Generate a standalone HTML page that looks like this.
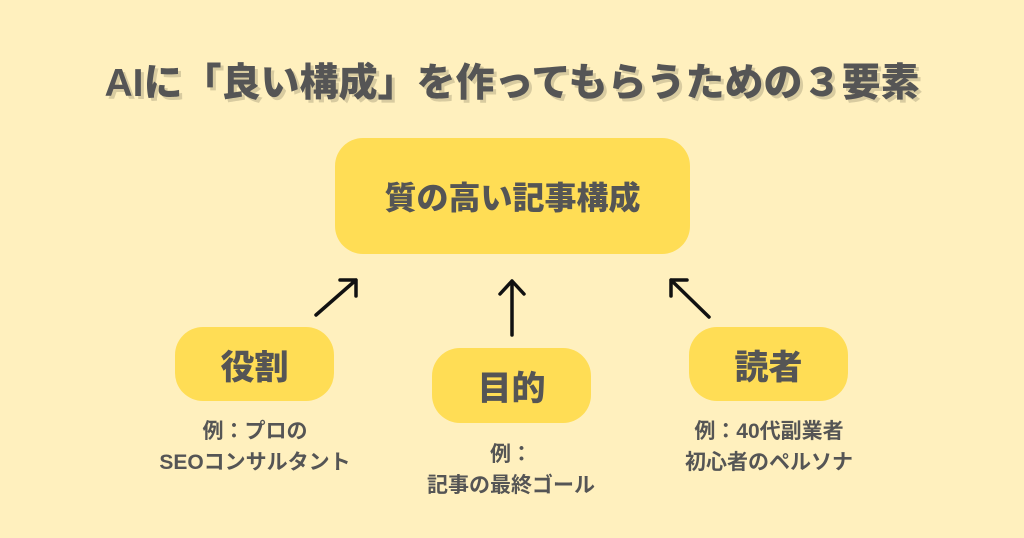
<!DOCTYPE html>
<html><head><meta charset="utf-8"><style>
body{margin:0;width:1024px;height:538px;background:#FFF0BE;font-family:"Liberation Sans","Noto Sans CJK JP",sans-serif;position:relative;overflow:hidden;color:#555}
.t{position:absolute;left:0;width:1024px;top:52px;text-align:center;font-size:39px;font-weight:900;color:#555;text-shadow:3px 3px 0 #D8CBA0;letter-spacing:0px}
.b{position:absolute;background:#FFDD55;border-radius:28px;display:flex;align-items:center;justify-content:center;font-weight:900;font-size:34px;color:#555}
.c{position:absolute;text-align:center;font-size:21px;font-weight:700;line-height:31px;color:#555}
</style></head><body>
<div class="t">AIに「良い構成」を作ってもらうための３要素</div>
<div class="b" style="left:335px;top:138px;width:355px;height:116px;font-size:32px">質の高い記事構成</div>
<div class="b" style="left:175px;top:327px;width:159px;height:74px">役割</div>
<div class="b" style="left:432px;top:348px;width:159px;height:75px">目的</div>
<div class="b" style="left:689px;top:327px;width:159px;height:74px">読者</div>
<div class="c" style="left:130px;width:250px;top:416px">例：プロの<br>SEOコンサルタント</div>
<div class="c" style="left:386px;width:250px;top:439px">例：<br>記事の最終ゴール</div>
<div class="c" style="left:644px;width:250px;top:416px">例：40代副業者<br>初心者のペルソナ</div>
<svg width="1024" height="538" style="position:absolute;left:0;top:0" fill="none" stroke="#111" stroke-width="3.5" stroke-linecap="round" stroke-linejoin="round">
<path d="M316 315 L356 280 M340 280 L356 280 L356 296"/>
<path d="M512 335 L512 281 M500 294 L512 281 L524 294"/>
<path d="M709 317 L671 280 M671 296 L671 280 L687 280"/>
</svg>
</body></html>
